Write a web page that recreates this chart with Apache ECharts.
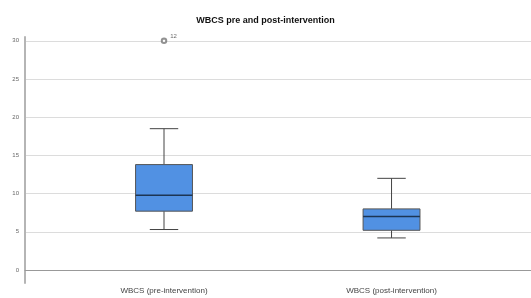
<!DOCTYPE html>
<html>
<head>
<meta charset="utf-8">
<script src="https://cdn.jsdelivr.net/npm/echarts@6/dist/echarts.min.js"></script>
<style>
html, body { margin: 0; padding: 0; background: #fff; }
#ech { width: 531px; height: 298px; }
</style>
</head>
<body>
<div id="ech"></div>
<script>
// categories and box statistics: [min, Q1, median, Q3, max]
var categories = ["WBCS (pre-intervention)", "WBCS (post-intervention)"];
var lowWhisker = [5.3, 4.2];
var q1 = [7.7, 5.2];
var median = [9.8, 7.0];
var q3 = [13.8, 8.0];
var highWhisker = [18.5, 12.0];
// outliers: [category index, value, case label]
var outliers = [[0, 30, "12"]];
var yTicks = [0, 5, 10, 15, 20, 25, 30];

function show() {
	var boxData = [];
	for (var i = 0; i < categories.length; i++) {
		boxData.push([i + 1, lowWhisker[i], q1[i], median[i], q3[i], highWhisker[i]]);
	}
	var outData = outliers.map(function (o) {
		return { value: [o[0] + 1, o[1]], label: { formatter: o[2] } };
	});
	showEchart(boxData, outData);
}

function renderBox(params, api) {
	var x = api.value(0);
	var pLow = api.coord([x, api.value(1)]);
	var pQ1 = api.coord([x, api.value(2)]);
	var pMed = api.coord([x, api.value(3)]);
	var pQ3 = api.coord([x, api.value(4)]);
	var pHigh = api.coord([x, api.value(5)]);
	var halfBox = api.size([0.25, 0])[0] / 2;
	var halfCap = halfBox / 2;
	var cx = pMed[0];
	var lineStyle = { stroke: '#444', lineWidth: 1 };
	return {
		type: 'group',
		children: [
			{ type: 'line', shape: { x1: cx, y1: pHigh[1], x2: cx, y2: pQ3[1] }, style: lineStyle },
			{ type: 'line', shape: { x1: cx, y1: pQ1[1], x2: cx, y2: pLow[1] }, style: lineStyle },
			{ type: 'line', shape: { x1: cx - halfCap, y1: pHigh[1], x2: cx + halfCap, y2: pHigh[1] }, style: lineStyle },
			{ type: 'line', shape: { x1: cx - halfCap, y1: pLow[1], x2: cx + halfCap, y2: pLow[1] }, style: lineStyle },
			{
				type: 'rect',
				shape: { x: cx - halfBox, y: pQ3[1], width: halfBox * 2, height: pQ1[1] - pQ3[1] },
				style: { fill: '#5191e3', stroke: '#555', lineWidth: 1 }
			},
			{ type: 'line', shape: { x1: cx - halfBox, y1: pMed[1], x2: cx + halfBox, y2: pMed[1] }, style: { stroke: '#1c3554', lineWidth: 1.5 } }
		]
	};
}

function showEchart(boxData, outData) {
	var myChart = echarts.init(document.getElementById('ech'));
	var option = {
		animation: false,
		backgroundColor: '#fff',
		textStyle: { fontFamily: 'Liberation Sans' },
		title: {
			text: 'WBCS pre and post-intervention',
			left: 'center',
			top: 11,
			textStyle: { fontSize: 9, fontWeight: 'bold', color: '#111', fontFamily: 'Liberation Sans' }
		},
		grid: { left: 25, right: 0, top: 37, bottom: 15, outerBoundsMode: 'none' },
		xAxis: {
			type: 'value',
			min: 0.389,
			max: 2.613,
			axisLine: { show: true, lineStyle: { color: '#999', width: 1 } },
			axisTick: { show: false, customValues: [1, 2] },
			splitLine: { show: false },
			axisLabel: {
				customValues: [1, 2],
				formatter: function (v) { return categories[Math.round(v) - 1]; },
				fontSize: 8,
				color: '#444',
				margin: 4
			}
		},
		yAxis: {
			type: 'value',
			min: -1.7,
			max: 30.5,
			axisLine: { show: true, lineStyle: { color: '#b5b5b5', width: 2 } },
			axisTick: { show: false, customValues: yTicks },
			splitLine: { show: true, lineStyle: { color: '#dcdcdc', width: 1 } },
			axisLabel: {
				customValues: yTicks,
				fontSize: 6,
				color: '#666',
				margin: 6
			}
		},
		series: [
			{
				type: 'custom',
				renderItem: renderBox,
				data: boxData,
				encode: { x: 0, y: [1, 2, 3, 4, 5] }
			},
			{
				type: 'scatter',
				symbol: 'emptyCircle',
				symbolSize: 4.5,
				itemStyle: { color: '#777', borderWidth: 0.8 },
				label: {
					show: true,
					position: 'right',
					offset: [-2, -4],
					fontSize: 6,
					color: '#444'
				},
				data: outData
			}
		]
	};
	myChart.setOption(option);
}

show();
</script>
</body>
</html>
